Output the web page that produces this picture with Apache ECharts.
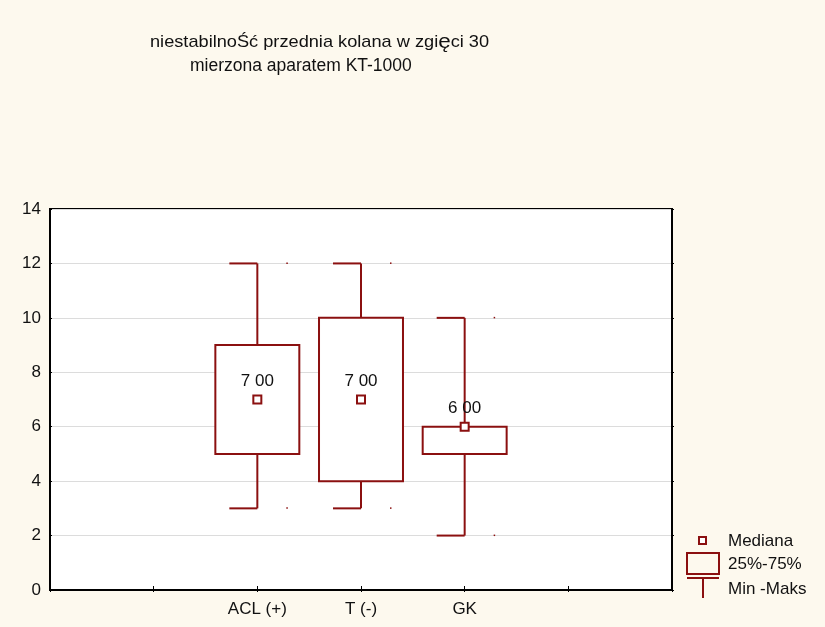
<!DOCTYPE html>
<html>
<head>
<meta charset="utf-8">
<script src="https://cdn.jsdelivr.net/npm/echarts@6/dist/echarts.min.js"></script>
<style>
html, body { margin: 0; padding: 0; background: #fdf9ee; }
#chart { width: 825px; height: 627px; }
</style>
</head>
<body>
<div id="chart"></div>
<script>
// Title lines (the ę is set slightly larger, as in the original font mix)
const titleLine1 = ['niestabilnoŚć przednia kolana w zgi', 'ę', 'ci 30'];
const titleLine2 = 'mierzona aparatem KT-1000';

// Horizontal slots (the groups sit in the middle of six equal bands)
const slots = ['', '', 'ACL (+)', 'T (-)', 'GK', '', ''];

// Box statistics per group
const groups = ['ACL (+)', 'T (-)', 'GK'];
const minVals = [3, 3, 2];
const q1Vals = [5, 4, 5];
const medianVals = [7, 7, 6];
const q3Vals = [9, 10, 6];
const maxVals = [12, 12, 10];

// Value axis
const yMin = 0;
const yMax = 14;
const yStep = 2;

// Legend captions
const legendLabels = ['Mediana', '25%-75%', 'Min -Maks'];

const RED = '#8b1010';
const FONT = '"Liberation Sans", Arial, sans-serif';
const TXT = 17;

const boxData = groups.map((g, i) => [g, minVals[i], q1Vals[i], medianVals[i], q3Vals[i], maxVals[i]]);

function renderBox(params, api) {
  const x = api.value(0);
  const pMin = api.coord([x, api.value(1)]);
  const pQ1 = api.coord([x, api.value(2)]);
  const pMed = api.coord([x, api.value(3)]);
  const pQ3 = api.coord([x, api.value(4)]);
  const pMax = api.coord([x, api.value(5)]);
  const band = api.size([1, 0])[0];
  const half = band * 0.405;
  const cap = band * 0.27;
  const cx = pMed[0];
  const line = { stroke: RED, lineWidth: 2, fill: null };
  const children = [
    // whiskers
    { type: 'line', shape: { x1: cx, y1: pQ3[1], x2: cx, y2: pMax[1] }, style: line },
    { type: 'line', shape: { x1: cx, y1: pQ1[1], x2: cx, y2: pMin[1] }, style: line },
    // half caps
    { type: 'line', shape: { x1: cx - cap, y1: pMax[1], x2: cx, y2: pMax[1] }, style: line },
    { type: 'line', shape: { x1: cx - cap, y1: pMin[1], x2: cx, y2: pMin[1] }, style: line },
    // small end dots
    { type: 'rect', shape: { x: cx + cap + 1, y: pMax[1] - 1, width: 1.5, height: 1.5 }, style: { fill: RED } },
    { type: 'rect', shape: { x: cx + cap + 1, y: pMin[1] - 1, width: 1.5, height: 1.5 }, style: { fill: RED } },
    // interquartile box
    { type: 'rect', shape: { x: cx - half, y: pQ3[1], width: 2 * half, height: pQ1[1] - pQ3[1] },
      style: { stroke: RED, lineWidth: 2, fill: '#fff' } },
    // median marker
    { type: 'rect', shape: { x: pMed[0] - 4, y: pMed[1] - 4, width: 8, height: 8 },
      style: { stroke: RED, lineWidth: 2, fill: '#fff' } },
    // median label
    { type: 'text', x: pMed[0], y: pMed[1] - 18,
      style: { text: api.value(3).toFixed(2).replace('.', ' '), fill: '#111', font: TXT + 'px ' + FONT,
               align: 'center', verticalAlign: 'middle' } }
  ];
  return { type: 'group', children };
}

const chart = echarts.init(document.getElementById('chart'), null, { renderer: 'canvas' });

chart.setOption({
  backgroundColor: '#fdf9ee',
  animation: false,
  grid: {
    left: 50, right: 153, top: 209, bottom: 37,
    show: true, backgroundColor: '#fff', borderColor: '#000', borderWidth: 2
  },
  xAxis: [{
    type: 'category',
    data: slots,
    boundaryGap: false,
    axisLine: { lineStyle: { color: '#000', width: 2 } },
    axisTick: { inside: true, length: 4, lineStyle: { color: '#000' }, interval: 0 },
    axisLabel: { interval: 0, color: '#111', fontSize: TXT, fontFamily: FONT, margin: 11 },
    splitLine: { show: false }
  }, {
    type: 'category',
    data: slots,
    position: 'top',
    boundaryGap: false,
    axisLine: { lineStyle: { color: '#000', width: 2 } },
    axisTick: { inside: true, length: 2, lineStyle: { color: '#000' }, interval: 0 },
    axisLabel: { show: false },
    splitLine: { show: false }
  }],
  yAxis: [{
    type: 'value',
    min: yMin, max: yMax, interval: yStep,
    axisLine: { show: true, lineStyle: { color: '#000', width: 2 } },
    axisTick: { show: true, inside: true, length: 2, lineStyle: { color: '#000' } },
    axisLabel: { color: '#111', fontSize: TXT, fontFamily: FONT, margin: 9 },
    splitLine: { show: true, lineStyle: { color: '#dcdcdc', width: 1 } }
  }, {
    type: 'value',
    position: 'right',
    min: yMin, max: yMax, interval: yStep,
    axisLine: { show: true, lineStyle: { color: '#000', width: 2 } },
    axisTick: { show: true, inside: false, length: 2, lineStyle: { color: '#000' } },
    axisLabel: { show: false },
    splitLine: { show: false }
  }],
  series: [{
    type: 'custom',
    renderItem: renderBox,
    data: boxData,
    encode: { x: 0, y: [1, 2, 3, 4, 5] },
    clip: false,
    z: 5
  }],
  graphic: [
    { type: 'text', x: 150, y: 32, scaleX: 1.07,
      style: {
        text: titleLine1[0] + '{big|' + titleLine1[1] + '}' + titleLine1[2],
        fill: '#111', font: '17px ' + FONT,
        rich: { big: { fontSize: 21, fontFamily: FONT, fill: '#111' } }
      } },
    { type: 'text', x: 190, y: 57,
      style: { text: titleLine2, fill: '#111', font: '17.5px ' + FONT } },
    // legend: median marker
    { type: 'rect', shape: { x: 699, y: 537, width: 7, height: 7 },
      style: { stroke: RED, lineWidth: 2, fill: '#fff' } },
    { type: 'text', x: 728, y: 541,
      style: { text: legendLabels[0], fill: '#111', font: TXT + 'px ' + FONT, verticalAlign: 'middle' } },
    // legend: box
    { type: 'rect', shape: { x: 687, y: 553, width: 32, height: 21 },
      style: { stroke: RED, lineWidth: 2, fill: null } },
    { type: 'text', x: 728, y: 564,
      style: { text: legendLabels[1], fill: '#111', font: TXT + 'px ' + FONT, verticalAlign: 'middle' } },
    // legend: whisker
    { type: 'line', shape: { x1: 687, y1: 578, x2: 719, y2: 578 }, style: { stroke: RED, lineWidth: 2 } },
    { type: 'line', shape: { x1: 703, y1: 578, x2: 703, y2: 598 }, style: { stroke: RED, lineWidth: 2 } },
    { type: 'text', x: 728, y: 589,
      style: { text: legendLabels[2], fill: '#111', font: TXT + 'px ' + FONT, verticalAlign: 'middle' } }
  ]
});
</script>
</body>
</html>
